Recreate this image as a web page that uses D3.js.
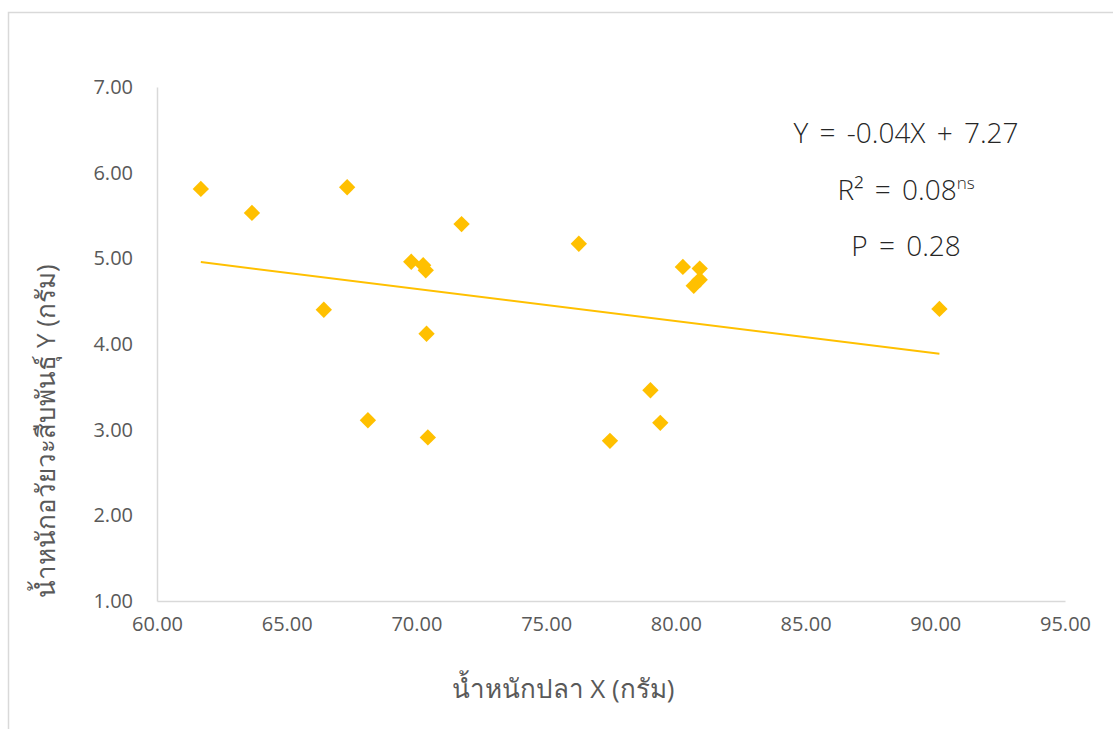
<!DOCTYPE html>
<html>
<head>
<meta charset="utf-8">
<script src="https://cdn.jsdelivr.net/npm/d3@7"></script>
<style>
  body { margin: 0; background: #fff; }
  svg { display: block; font-family: "Open Sans", "Noto Sans", sans-serif; }
</style>
</head>
<body>
<div id="chart"></div>
<script>
// fish weight X (g)
var fishWeight = [61.69, 63.66, 66.43, 67.33, 68.13, 69.80, 70.26, 70.36, 70.39, 70.44,
                  71.74, 76.26, 77.46, 79.02, 79.40, 80.27, 80.69, 80.92, 80.92, 90.16]
// reproductive organ weight Y (g)
var organWeight = [5.81, 5.53, 4.40, 5.83, 3.11, 4.96, 4.92, 4.86, 4.12, 2.91,
                   5.40, 5.17, 2.87, 3.46, 3.08, 4.90, 4.68, 4.75, 4.88, 4.41]
var xTicks = [60, 65, 70, 75, 80, 85, 90, 95]
var yTicks = [1, 2, 3, 4, 5, 6, 7]
var statLines = ['Y = -0.04X + 7.27', 'R² = 0.08', 'P = 0.28']

var W = 1113, H = 729
var margin = { top: 87, right: 48, bottom: 128, left: 157 }
var width = W - margin.left - margin.right
var height = H - margin.top - margin.bottom

var svg = d3.select('#chart').append('svg')
  .attr('width', W)
  .attr('height', H)

// outer chart frame
svg.append('rect')
  .attr('x', 8.5).attr('y', 12.5)
  .attr('width', 1300).attr('height', 900)
  .attr('fill', 'none')
  .attr('stroke', '#d9d9d9')
  .attr('stroke-width', 1.5)

var g = svg.append('g')
  .attr('transform', 'translate(' + margin.left + ',' + margin.top + ')')

var x = d3.scaleLinear().domain([60, 95]).range([0, width])
var y = d3.scaleLinear().domain([1, 7]).range([height, 0])

var xAxis = d3.axisBottom(x).tickValues(xTicks).tickSize(0).tickPadding(16)
  .tickFormat(d3.format('.2f'))
var yAxis = d3.axisLeft(y).tickValues(yTicks).tickSize(0).tickPadding(24)
  .tickFormat(d3.format('.2f'))

g.append('g')
  .attr('transform', 'translate(0,' + height + ')')
  .call(xAxis)
  .call(styleAxis)

g.append('g')
  .call(yAxis)
  .call(styleAxis)

function styleAxis (sel) {
  sel.select('.domain').attr('stroke', '#d9d9d9').attr('stroke-width', 1.5)
  sel.selectAll('.tick text')
    .attr('fill', '#595959')
    .style('font-size', '20px')
    .style('font-family', '"Open Sans", sans-serif')
}

// trend line from least squares fit
var n = fishWeight.length
var mx = d3.mean(fishWeight), my = d3.mean(organWeight)
var sxy = 0, sxx = 0
for (var i = 0; i < n; i++) {
  sxy += (fishWeight[i] - mx) * (organWeight[i] - my)
  sxx += (fishWeight[i] - mx) * (fishWeight[i] - mx)
}
var slope = sxy / sxx
var intercept = my - slope * mx
var xExt = d3.extent(fishWeight)

g.append('line')
  .attr('x1', x(xExt[0])).attr('y1', y(intercept + slope * xExt[0]))
  .attr('x2', x(xExt[1])).attr('y2', y(intercept + slope * xExt[1]))
  .attr('stroke', '#FFC000')
  .attr('stroke-width', 2)

// diamonds
var diamond = d3.symbol().type(d3.symbolDiamond2).size(170)
g.selectAll('.pt')
  .data(fishWeight)
  .enter()
  .append('path')
  .attr('class', 'pt')
  .attr('d', diamond)
  .attr('transform', function (d, i) {
    return 'translate(' + x(d) + ',' + y(organWeight[i]) + ')'
  })
  .attr('fill', '#FFC000')

// stats text
var stats = svg.append('g')
  .attr('fill', '#262626')
  .style('font-family', '"Open Sans", sans-serif')
  .style('font-weight', 300)
  .style('font-size', '28px')
  .style('word-spacing', '4px')
  .attr('text-anchor', 'middle')
var statY = [143, 200, 256]
statLines.forEach(function (s, i) {
  var t = stats.append('text').attr('x', 906).attr('y', statY[i]).text(s)
  if (i === 1) {
    t.append('tspan').attr('dy', -11).style('font-size', '17px').text('ns')
  }
})

// axis titles
svg.append('text')
  .attr('x', 563).attr('y', 698)
  .attr('text-anchor', 'middle')
  .attr('fill', '#595959')
  .style('font-size', '26px')
  .text('น้ำหนักปลา X (กรัม)')

svg.append('text')
  .attr('transform', 'translate(55,431) rotate(-90)')
  .attr('text-anchor', 'middle')
  .attr('fill', '#595959')
  .style('font-size', '26px')
  .text('น้ำหนักอวัยวะสืบพันธุ์ Y (กรัม)')
</script>
</body>
</html>
